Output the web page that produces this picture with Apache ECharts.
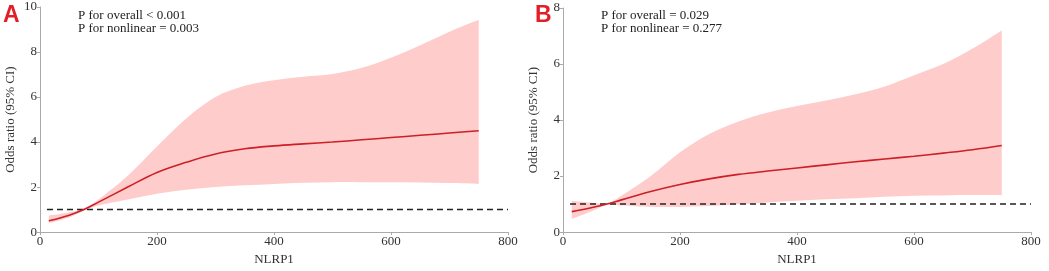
<!DOCTYPE html>
<html>
<head>
<meta charset="utf-8">
<script src="https://cdn.jsdelivr.net/npm/echarts@6/dist/echarts.min.js"></script>
<style>
  html, body { margin: 0; padding: 0; background: #fff; }
  #chart { width: 1049px; height: 271px; }
</style>
</head>
<body>
<div id="chart"></div>
<script>
// NLRP1 values
var xs = [15, 50, 75, 100, 150, 200, 250, 300, 350, 400, 450, 500, 550, 600, 650, 700, 750];

// panel A
var orA    = [0.5, 0.75, 1.0, 1.33, 2.0, 2.65, 3.1, 3.47, 3.7, 3.83, 3.92, 4.0, 4.1, 4.2, 4.3, 4.4, 4.5];
var upperA = [0.73, 0.88, 1.05, 1.45, 2.5, 3.8, 5.05, 6.0, 6.5, 6.75, 6.9, 7.02, 7.3, 7.75, 8.3, 8.9, 9.43];
var lowerA = [0.4, 0.65, 0.95, 1.18, 1.45, 1.7, 1.88, 2.0, 2.08, 2.14, 2.19, 2.22, 2.22, 2.21, 2.2, 2.18, 2.14];

// panel B
var orB    = [0.73, 0.88, 1.0, 1.15, 1.45, 1.7, 1.9, 2.06, 2.18, 2.29, 2.4, 2.51, 2.61, 2.71, 2.82, 2.94, 3.09];
var upperB = [1.12, 1.05, 1.02, 1.3, 2.0, 2.85, 3.5, 3.95, 4.27, 4.5, 4.7, 4.92, 5.2, 5.6, 6.0, 6.55, 7.2];
var lowerB = [0.47, 0.75, 0.97, 0.95, 0.9, 0.9, 0.93, 0.99, 1.06, 1.12, 1.17, 1.21, 1.26, 1.3, 1.31, 1.32, 1.32];

var ptextA = ['P for overall < 0.001', 'P for nonlinear = 0.003'];
var ptextB = ['P for overall = 0.029', 'P for nonlinear = 0.277'];

var serif = '"Liberation Serif", "DejaVu Serif", serif';
var lineRed = '#CC1F26';
var bandPink = '#FFCCCC';

function pairs(y) {
    return xs.map(function(x, i) { return [x, y[i]]; });
}

// catmull-rom through screen points -> svg path segments
function crPath(pts, start) {
    var d = start ? 'M' + pts[0][0] + ' ' + pts[0][1] : 'L' + pts[0][0] + ' ' + pts[0][1];
    for (var i = 0; i < pts.length - 1; i++) {
        var p0 = pts[i - 1] || pts[i], p1 = pts[i], p2 = pts[i + 1], p3 = pts[i + 2] || p2;
        var c1x = p1[0] + (p2[0] - p0[0]) / 6, c1y = p1[1] + (p2[1] - p0[1]) / 6;
        var c2x = p2[0] - (p3[0] - p1[0]) / 6, c2y = p2[1] - (p3[1] - p1[1]) / 6;
        d += ' C' + c1x + ' ' + c1y + ' ' + c2x + ' ' + c2y + ' ' + p2[0] + ' ' + p2[1];
    }
    return d;
}

function bandSeries(idx, lower, upper) {
    return {
        type: 'custom', xAxisIndex: idx, yAxisIndex: idx, silent: true,
        data: xs.map(function(x, i) { return [x, lower[i], upper[i]]; }),
        renderItem: function(params, api) {
            if (params.dataIndex !== 0) return;
            var up = xs.map(function(x, i) { return api.coord([x, upper[i]]); });
            var lo = xs.map(function(x, i) { return api.coord([x, lower[i]]); }).reverse();
            var d = crPath(up, true) + ' ' + crPath(lo, false) + ' Z';
            return {
                type: 'path',
                shape: { pathData: d },
                style: { fill: bandPink, stroke: null }
            };
        }
    };
}

function xAxisCfg(idx) {
    return {
        type: 'value', gridIndex: idx, min: 0, max: 800, interval: 200,
        name: 'NLRP1', nameLocation: 'middle', nameGap: 19,
        nameTextStyle: { fontFamily: serif, fontSize: 13, color: '#333' },
        axisLine: { lineStyle: { color: '#aaa', width: 1 } },
        axisTick: { show: true, length: 3, lineStyle: { color: '#aaa' } },
        axisLabel: { fontFamily: serif, fontSize: 13, color: '#333', margin: 3 },
        splitLine: { show: false }
    };
}
function yAxisCfg(idx, max) {
    return {
        type: 'value', gridIndex: idx, min: 0, max: max, interval: 2,
        name: 'Odds ratio (95% CI)', nameLocation: 'middle', nameGap: 23,
        nameTextStyle: { fontFamily: serif, fontSize: 13, color: '#333' },
        axisLine: { show: true, lineStyle: { color: '#aaa', width: 1 } },
        axisTick: { show: true, length: 3, lineStyle: { color: '#aaa' } },
        axisLabel: { fontFamily: serif, fontSize: 13, color: '#333', margin: 3 },
        splitLine: { show: false }
    };
}
function panelSeries(idx, lower, upper, or) {
    return [
        bandSeries(idx, lower, upper),
        {
            type: 'line', xAxisIndex: idx, yAxisIndex: idx,
            data: [[12, 1], [800, 1]], symbol: 'none', silent: true,
            lineStyle: { color: '#222', width: 1.5, type: [6, 4] }
        },
        {
            type: 'line', xAxisIndex: idx, yAxisIndex: idx,
            data: pairs(or), smooth: 0.4, symbol: 'none', silent: true,
            lineStyle: { color: lineRed, width: 1.6 }
        }
    ];
}

var chart = echarts.init(document.getElementById('chart'));
var option = {
    backgroundColor: '#fff',
    animation: false,
    grid: [
        { left: 40, top: 7, width: 468, height: 234 },
        { left: 563, top: 8, width: 468, height: 234 }
    ],
    xAxis: [xAxisCfg(0), xAxisCfg(1)],
    yAxis: [yAxisCfg(0, 10), yAxisCfg(1, 8)],
    graphic: [
        { type: 'text', left: 3, top: 4, style: { text: 'A', font: 'bold 23px "Liberation Sans", Arial, sans-serif', fill: '#E31E26' } },
        { type: 'text', left: 535, top: 4, style: { text: 'B', font: 'bold 23px "Liberation Sans", Arial, sans-serif', fill: '#E31E26' } },
        { type: 'text', left: 78, top: 9, style: { text: ptextA.join('\n'), font: '13px ' + serif, fill: '#222', lineHeight: 13 } },
        { type: 'text', left: 601, top: 9, style: { text: ptextB.join('\n'), font: '13px ' + serif, fill: '#222', lineHeight: 13 } }
    ],
    series: panelSeries(0, lowerA, upperA, orA).concat(panelSeries(1, lowerB, upperB, orB))
};
chart.setOption(option);
</script>
</body>
</html>
